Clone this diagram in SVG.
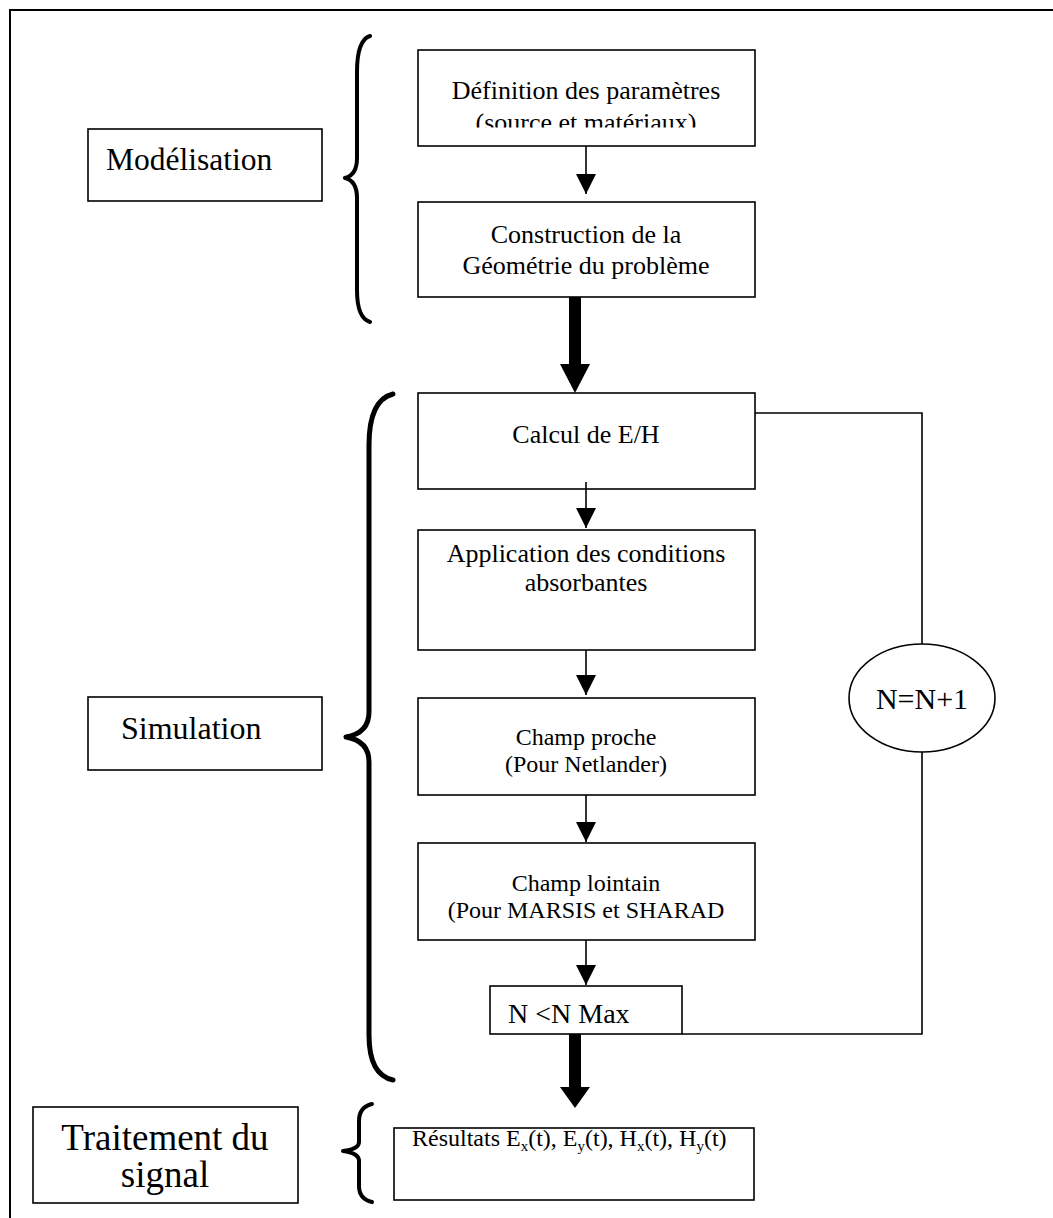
<svg xmlns="http://www.w3.org/2000/svg" width="1053" height="1218" viewBox="0 0 1053 1218">
<style>
.box{fill:#fff;stroke:#000;stroke-width:1.6}
.t{font-family:"Liberation Serif","Times New Roman",serif;fill:#000}
.c{text-anchor:middle}
.brace{fill:none;stroke:#000;stroke-linecap:round;stroke-linejoin:round}
.ln{fill:none;stroke:#000;stroke-width:1.6}
.thick{fill:#000}
</style>
<defs>
<marker id="ah" markerUnits="userSpaceOnUse" markerWidth="20" markerHeight="20" refX="20" refY="10" orient="auto">
<path d="M0,0 L20,10 L0,20 Z" fill="#000"/>
</marker>
<clipPath id="clipDef"><rect x="418" y="50" width="337" height="77.5"/></clipPath>
</defs>
<rect width="1053" height="1218" fill="#fff"/>
<path d="M10,1218 L10,10 L1053,10" fill="none" stroke="#000" stroke-width="2"/>

<g id="modelisation">
<rect class="box" x="88" y="129" width="234" height="72"/>
<text class="t" x="106" y="170" font-size="31.5">Modélisation</text>
</g>
<g id="brace-modelisation">
<path class="brace" stroke-width="4" d="M370,36 Q357,40 357,72 L357,158 Q357,175 345,178 Q357,181 357,198 L357,290 Q357,318 370,322"/>
</g>

<g id="simulation">
<rect class="box" x="88" y="697" width="234" height="73"/>
<text class="t" x="121" y="739" font-size="32">Simulation</text>
</g>
<g id="brace-simulation">
<path class="brace" stroke-width="5" d="M393,394 Q369,400 369,445 L369,712 Q369,733 346,737 Q369,741 369,762 L369,1035 Q369,1075 393,1080"/>
</g>

<g id="traitement">
<rect class="box" x="33" y="1107" width="265" height="96"/>
<text class="t c" x="165" y="1150" font-size="37">Traitement du</text>
<text class="t c" x="165" y="1187" font-size="37">signal</text>
</g>
<g id="brace-traitement">
<path class="brace" stroke-width="4" d="M372,1104 Q359,1107 359,1121 L359,1142 Q359,1149 343,1151 Q359,1153 359,1161 L359,1186 Q359,1199 372,1202"/>
</g>

<g id="definition">
<rect class="box" x="418" y="50" width="337" height="96"/>
<text class="t c" x="586" y="99" font-size="26">Définition des paramètres</text>
<text class="t c" x="586" y="131" font-size="26" clip-path="url(#clipDef)">(source et matériaux)</text>
</g>

<g id="construction">
<rect class="box" x="418" y="202" width="337" height="95"/>
<text class="t c" x="586" y="243" font-size="26">Construction de la</text>
<text class="t c" x="586" y="274" font-size="26">Géométrie du problème</text>
</g>

<g id="calcul">
<rect class="box" x="418" y="393" width="337" height="96"/>
<text class="t c" x="586" y="443" font-size="26">Calcul de E/H</text>
</g>

<g id="application">
<rect class="box" x="418" y="530" width="337" height="120"/>
<text class="t c" x="586" y="562" font-size="26">Application des conditions</text>
<text class="t c" x="586" y="591" font-size="26">absorbantes</text>
</g>

<g id="champ-proche">
<rect class="box" x="418" y="698" width="337" height="97"/>
<text class="t c" x="586" y="745" font-size="24">Champ proche</text>
<text class="t c" x="586" y="772" font-size="24">(Pour Netlander)</text>
</g>

<g id="champ-lointain">
<rect class="box" x="418" y="843" width="337" height="97"/>
<text class="t c" x="586" y="891" font-size="24">Champ lointain</text>
<text class="t c" x="586" y="918" font-size="24">(Pour MARSIS et SHARAD</text>
</g>

<g id="nmax">
<rect class="box" x="490" y="986" width="192" height="48"/>
<text class="t" x="508" y="1023" font-size="28">N &lt;N Max</text>
</g>

<g id="increment">
<ellipse class="box" cx="922" cy="698" rx="73" ry="54"/>
<text class="t c" x="922" y="709" font-size="30">N=N+1</text>
</g>

<g id="resultats">
<rect class="box" x="394" y="1128" width="360" height="72"/>
<text class="t" x="412" y="1146" font-size="24">Résultats  E<tspan font-size="15" dy="5">x</tspan><tspan dy="-5">(t), E</tspan><tspan font-size="15" dy="5">y</tspan><tspan dy="-5">(t), H</tspan><tspan font-size="15" dy="5">x</tspan><tspan dy="-5">(t), H</tspan><tspan font-size="15" dy="5">y</tspan><tspan dy="-5">(t)</tspan></text>
</g>

<g id="connectors">
<line class="ln" x1="586" y1="146" x2="586" y2="194" marker-end="url(#ah)"/>
<line class="ln" x1="586" y1="482" x2="586" y2="528" marker-end="url(#ah)"/>
<line class="ln" x1="586" y1="650" x2="586" y2="695" marker-end="url(#ah)"/>
<line class="ln" x1="586" y1="795" x2="586" y2="842" marker-end="url(#ah)"/>
<line class="ln" x1="586" y1="940" x2="586" y2="985" marker-end="url(#ah)"/>
<rect class="thick" x="569" y="297" width="12" height="68"/>
<path class="thick" d="M560,364 L590,364 L575,393 Z"/>
<rect class="thick" x="569" y="1034" width="12" height="54"/>
<path class="thick" d="M560,1087 L590,1087 L575,1108 Z"/>
<path class="ln" d="M755,413 L922,413 L922,644"/>
<path class="ln" d="M682,1034 L922,1034 L922,752"/>
</g>
</svg>
